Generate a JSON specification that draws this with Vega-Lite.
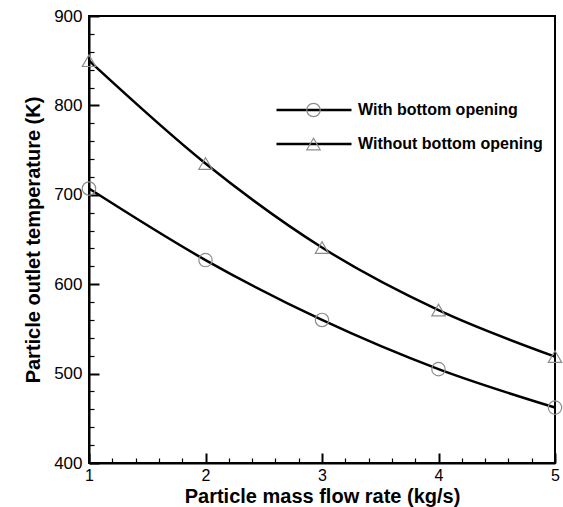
{
  "$schema": "https://vega.github.io/schema/vega-lite/v6.json",
  "width": 466,
  "height": 447,
  "autosize": "none",
  "padding": {"left": 89, "top": 16, "right": 8, "bottom": 44},
  "background": "white",
  "config": {
    "view": {"stroke": "black", "strokeWidth": 2},
    "font": "Liberation Sans"
  },
  "data": {
    "values": [
      {"rate": 1, "temp": 707, "series": "With bottom opening", "marker": "With bottom opening"},
      {"rate": 2, "temp": 627, "series": "With bottom opening", "marker": "With bottom opening"},
      {"rate": 3, "temp": 560, "series": "With bottom opening", "marker": "With bottom opening"},
      {"rate": 4, "temp": 505, "series": "With bottom opening", "marker": "With bottom opening"},
      {"rate": 5, "temp": 462, "series": "With bottom opening", "marker": "With bottom opening"},
      {"rate": 1, "temp": 850, "series": "Without bottom opening", "marker": "Without bottom opening"},
      {"rate": 2, "temp": 735, "series": "Without bottom opening", "marker": "Without bottom opening"},
      {"rate": 3, "temp": 641, "series": "Without bottom opening", "marker": "Without bottom opening"},
      {"rate": 4, "temp": 571, "series": "Without bottom opening", "marker": "Without bottom opening"},
      {"rate": 5, "temp": 519, "series": "Without bottom opening", "marker": "Without bottom opening"}
    ]
  },
  "resolve": {"axis": {"x": "independent", "y": "independent"}},
  "layer": [
    {
      "mark": {"type": "line", "interpolate": "monotone", "strokeWidth": 2.5},
      "encoding": {
        "x": {
          "field": "rate",
          "type": "quantitative",
          "scale": {"domain": [1, 5], "nice": false, "zero": false},
          "axis": {
            "orient": "bottom",
            "title": "Particle mass flow rate (kg/s)",
            "values": [1, 2, 3, 4, 5],
            "format": "d",
            "tickSize": -10,
            "tickColor": "black",
            "tickWidth": 2,
            "domainColor": "black",
            "domainWidth": 2,
            "grid": false,
            "labelFlush": false,
            "labelOverlap": false,
            "labelFontSize": 16,
            "labelColor": "black",
            "labelPadding": 14,
            "titleFontSize": 20,
            "titleFontWeight": "bold",
            "titleColor": "black",
            "titlePadding": 3
          }
        },
        "y": {
          "field": "temp",
          "type": "quantitative",
          "scale": {"domain": [400, 900], "nice": false, "zero": false},
          "axis": {
            "orient": "left",
            "title": "Particle outlet temperature (K)",
            "values": [400, 500, 600, 700, 800, 900],
            "tickSize": -10,
            "tickColor": "black",
            "tickWidth": 2,
            "domainColor": "black",
            "domainWidth": 2,
            "grid": false,
            "labelFlush": false,
            "labelOverlap": false,
            "labelFontSize": 17,
            "labelColor": "black",
            "labelPadding": 17,
            "titleFontSize": 20,
            "titleFontWeight": "bold",
            "titleColor": "black",
            "titlePadding": 10
          }
        },
        "color": {
          "field": "series",
          "type": "nominal",
          "scale": {"range": ["black", "black"]},
          "legend": {
            "title": null,
            "orient": "none",
            "legendX": 186,
            "legendY": 84,
            "symbolType": "stroke",
            "symbolSize": 5625,
            "symbolStrokeWidth": 2.5,
            "labelFontSize": 16,
            "labelFontWeight": "bold",
            "labelColor": "black",
            "labelOffset": 5,
            "labelLimit": 400,
            "clipHeight": 20,
            "rowPadding": 14
          }
        }
      }
    },
    {
      "mark": {"type": "point", "filled": false, "color": "#8c8c8c", "strokeWidth": 1.2, "size": 180, "opacity": 1},
      "encoding": {
        "x": {
          "field": "rate",
          "type": "quantitative",
          "axis": {
            "orient": "bottom",
            "title": null,
            "values": [1.2, 1.4, 1.6, 1.8, 2.2, 2.4, 2.6, 2.8, 3.2, 3.4, 3.6, 3.8, 4.2, 4.4, 4.6, 4.8],
            "labels": false,
            "domain": false,
            "grid": false,
            "tickSize": -5,
            "tickColor": "black",
            "tickWidth": 1.2
          }
        },
        "y": {
          "field": "temp",
          "type": "quantitative",
          "axis": {
            "orient": "left",
            "title": null,
            "values": [420, 440, 460, 480, 520, 540, 560, 580, 620, 640, 660, 680, 720, 740, 760, 780, 820, 840, 860, 880],
            "labels": false,
            "domain": false,
            "grid": false,
            "tickSize": -5,
            "tickColor": "black",
            "tickWidth": 1.2
          }
        },
        "shape": {
          "field": "marker",
          "type": "nominal",
          "scale": {"range": ["circle", "triangle-up"]},
          "legend": {
            "title": null,
            "orient": "none",
            "legendX": 217,
            "legendY": 84,
            "symbolSize": 180,
            "symbolStrokeColor": "#8c8c8c",
            "symbolFillColor": "transparent",
            "symbolStrokeWidth": 1.2,
            "symbolOpacity": 1,
            "labelExpr": "''",
            "clipHeight": 20,
            "rowPadding": 14
          }
        }
      }
    }
  ]
}
